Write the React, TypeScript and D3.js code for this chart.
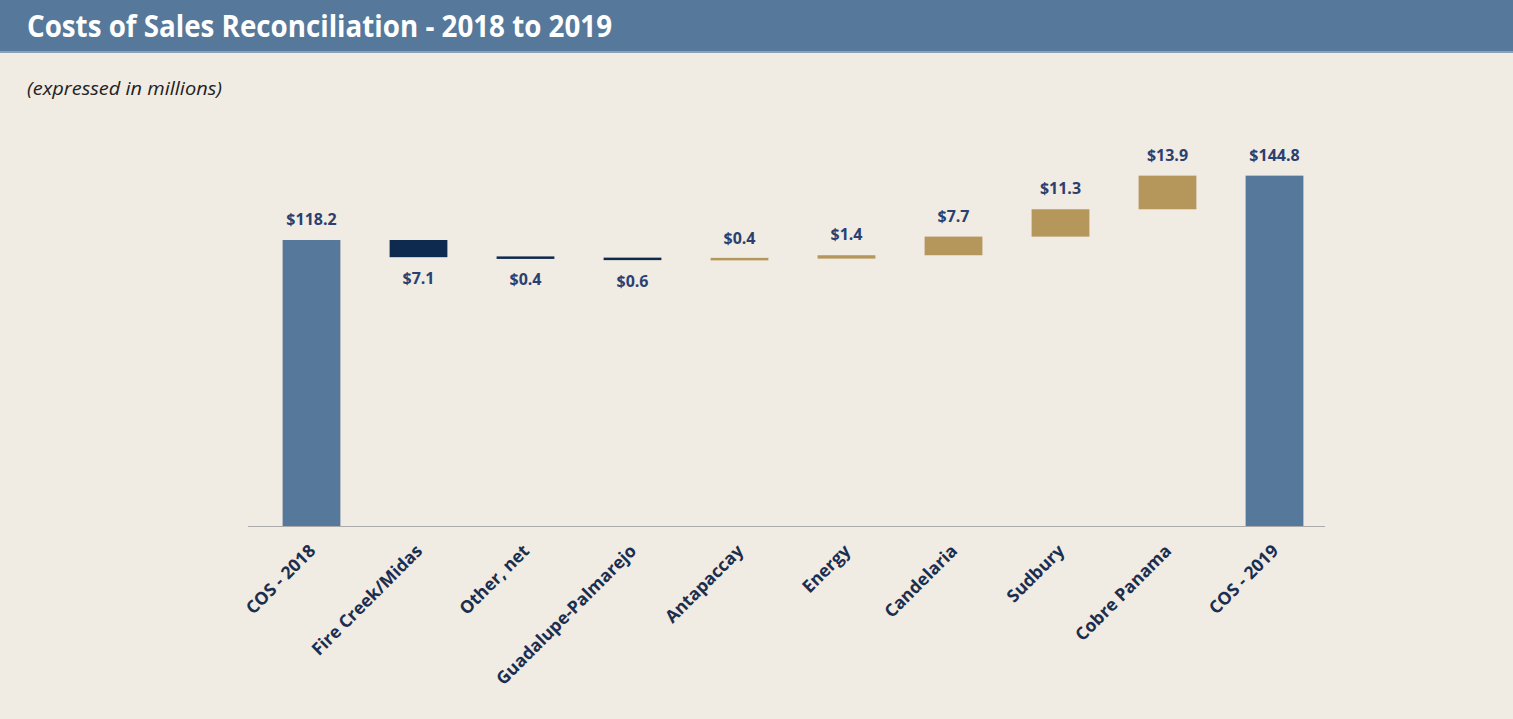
import { useEffect, useRef } from 'react';
import * as d3 from 'd3';

const categories = [
  'COS - 2018',
  'Fire Creek/Midas',
  'Other, net',
  'Guadalupe-Palmarejo',
  'Antapaccay',
  'Energy',
  'Candelaria',
  'Sudbury',
  'Cobre Panama',
  'COS - 2019',
];
// change vs previous bar; totals flagged separately
const changes = [118.2, -7.1, -0.4, -0.6, 0.4, 1.4, 7.7, 11.3, 13.9, 144.8];
const isTotal = [true, false, false, false, false, false, false, false, false, true];

const WIDTH = 1513;
const HEIGHT = 719;

const Chart = () => {
  const svgRef = useRef<SVGSVGElement>(null);

  useEffect(() => {
    if (!svgRef.current) return;
    d3.select(svgRef.current).selectAll('*').remove();

    const svg = d3.select(svgRef.current)
      .attr('width', WIDTH)
      .attr('height', HEIGHT);

    const font = "'Open Sans', 'DejaVu Sans', sans-serif";

    // background + header
    svg.append('rect').attr('width', WIDTH).attr('height', HEIGHT).attr('fill', '#f0ebe3');
    svg.append('rect').attr('width', WIDTH).attr('height', 52).attr('fill', '#56789b');
    svg.append('rect').attr('y', 51).attr('width', WIDTH).attr('height', 2).attr('fill', '#8aa0b8');

    svg.append('text')
      .attr('x', 27)
      .attr('y', 37)
      .attr('fill', '#fff')
      .attr('font-family', font)
      .attr('font-size', '31px')
      .attr('font-weight', 'bold')
      .attr('textLength', 585)
      .attr('lengthAdjust', 'spacingAndGlyphs')
      .text('Costs of Sales Reconciliation - 2018 to 2019');

    svg.append('text')
      .attr('x', 27)
      .attr('y', 95)
      .attr('fill', '#222')
      .attr('font-family', font)
      .attr('font-size', '19px')
      .attr('font-style', 'italic')
      .attr('textLength', 195)
      .attr('lengthAdjust', 'spacingAndGlyphs')
      .text('(expressed in millions)');

    // waterfall steps
    let running = 0;
    const steps = categories.map((c, i) => {
      let start: number;
      let end: number;
      if (isTotal[i]) {
        start = 0;
        end = changes[i];
        running = changes[i];
      } else {
        start = running;
        end = running + changes[i];
        running = end;
      }
      return { name: c, start, end, value: changes[i], total: isTotal[i] };
    });

    const x = d3.scaleBand()
      .domain(categories)
      .range([258, 1328])
      .paddingInner(0.46)
      .paddingOuter(0.23);

    const y = d3.scaleLinear()
      .domain([0, 150])
      .range([526, 526 - 150 * (286 / 118.2)]);

    const fillFor = (d: typeof steps[number]) =>
      d.total ? '#56789b' : d.value < 0 ? '#0f2a4f' : '#b5975c';

    const g = svg.append('g');

    g.selectAll('rect.bar')
      .data(steps)
      .join('rect')
      .attr('class', 'bar')
      .attr('x', d => x(d.name) || 0)
      .attr('width', x.bandwidth())
      .attr('y', d => {
        const top = y(Math.max(d.start, d.end));
        const h = Math.abs(y(d.start) - y(d.end));
        return h < 2.5 ? top - (2.5 - h) / 2 : top;
      })
      .attr('height', d => Math.max(2.5, Math.abs(y(d.start) - y(d.end))))
      .attr('fill', fillFor);

    // value labels
    g.selectAll('text.val')
      .data(steps)
      .join('text')
      .attr('class', 'val')
      .attr('x', d => (x(d.name) || 0) + x.bandwidth() / 2)
      .attr('y', d => d.value < 0
        ? y(Math.min(d.start, d.end)) + 27
        : y(Math.max(d.start, d.end)) - 15)
      .attr('text-anchor', 'middle')
      .attr('fill', '#2a4070')
      .attr('font-family', font)
      .attr('font-size', '16px')
      .attr('font-weight', 'bold')
      .text(d => `$${Math.abs(d.value).toFixed(1)}`);

    // baseline
    g.append('line')
      .attr('x1', 248)
      .attr('x2', 1325)
      .attr('y1', y(0) + 0.5)
      .attr('y2', y(0) + 0.5)
      .attr('stroke', '#aaa')
      .attr('stroke-width', 1);

    // category labels
    g.selectAll('text.cat')
      .data(categories)
      .join('text')
      .attr('class', 'cat')
      .attr('transform', d => `translate(${(x(d) || 0) + x.bandwidth() / 2 + 5},${y(0) + 26}) rotate(-45)`)
      .attr('text-anchor', 'end')
      .attr('fill', '#1a2e4f')
      .attr('font-family', font)
      .attr('font-size', '17.5px')
      .attr('font-weight', 'bold')
      .text(d => d);
  }, []);

  return <svg ref={svgRef} style={{ display: 'block' }} />;
};

export default function App() {
  return (
    <div style={{ position: 'absolute', top: 0, left: 0 }}>
      <Chart />
    </div>
  );
}
